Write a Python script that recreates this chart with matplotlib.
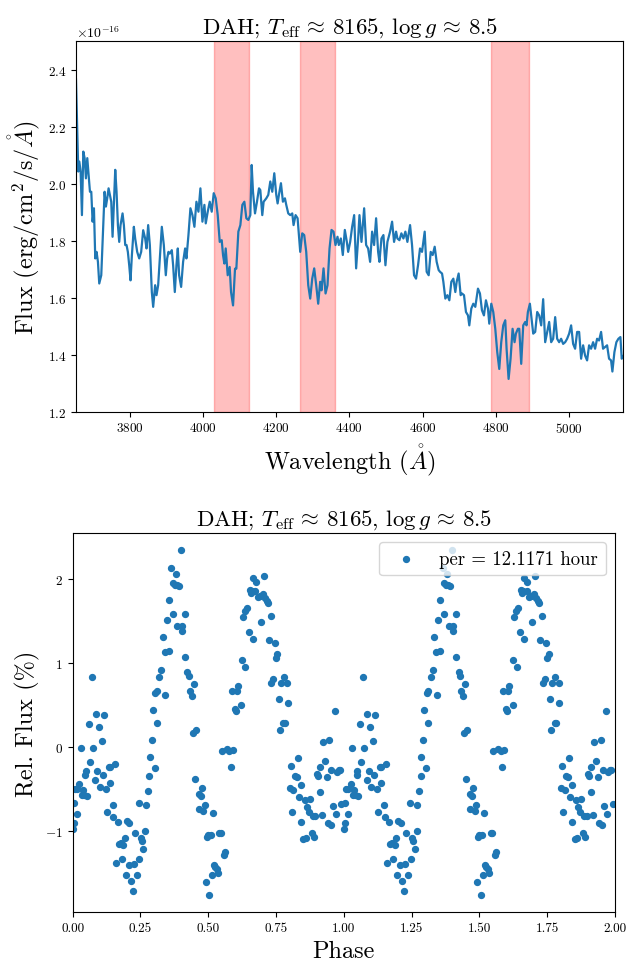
import matplotlib
matplotlib.use("Agg")
import matplotlib.pyplot as plt
import numpy as np

plt.rcParams['font.family'] = 'serif'
plt.rcParams['font.serif'] = ['cmr10']
plt.rcParams['mathtext.fontset'] = 'cm'
plt.rcParams['axes.formatter.use_mathtext'] = True
plt.rcParams['axes.unicode_minus'] = True

# spectrum, flux in units of 1e-16 erg/cm^2/s/A
wave_blue = [
    3652.7, 3659.0, 3661.8, 3665.4, 3669.0, 3672.7, 3676.3, 3679.9, 3683.6, 3687.2,
    3690.9, 3694.5, 3698.1, 3701.8, 3705.4, 3709.0, 3712.7, 3716.3, 3721.8, 3725.4,
    3730.9, 3734.5, 3738.1, 3741.8, 3745.4, 3749.1, 3752.7, 3756.3, 3760.0, 3763.6,
    3767.3, 3770.9, 3774.5, 3780.0, 3783.6, 3787.3, 3790.9, 3794.5, 3798.2, 3801.8,
    3805.5, 3810.9, 3814.5, 3820.0, 3825.5, 3830.9, 3836.4, 3841.8, 3845.5, 3850.0,
    3854.6, 3860.0, 3863.7, 3869.1, 3872.8, 3877.3, 3881.9, 3887.3, 3892.8, 3898.2,
    3901.9, 3905.5, 3909.1, 3914.6, 3918.2, 3922.8, 3927.3, 3931.0, 3934.6, 3940.1,
    3945.5, 3951.0, 3954.6, 3960.1, 3965.5, 3971.0, 3976.4, 3981.9, 3987.4, 3992.8,
    3998.3, 4003.7, 4007.4, 4012.8, 4018.3, 4023.7, 4029.2, 4034.6, 4040.1, 4045.6,
    4051.0, 4054.7, 4058.3, 4061.9, 4067.4, 4072.8, 4076.5, 4082.0, 4087.4, 4091.0,
    4096.5, 4102.0, 4107.4, 4112.9, 4118.3, 4123.8, 4129.2, 4132.9, 4136.5, 4142.0,
    4147.4, 4152.9]
flux_blue = [
    2.366, 2.043, 2.078, 2.043, 1.890, 2.113, 2.090, 2.019, 2.090, 2.031,
    1.972, 1.972, 1.867, 1.914, 1.738, 1.761, 1.726, 1.650, 1.679, 1.796,
    1.972, 1.920, 1.949, 1.984, 1.961, 1.937, 1.814, 1.926, 2.049, 1.972,
    1.855, 1.796, 1.855, 1.896, 1.855, 1.785, 1.785, 1.761, 1.714, 1.661,
    1.749, 1.849, 1.808, 1.761, 1.738, 1.761, 1.837, 1.808, 1.773, 1.855,
    1.785, 1.620, 1.568, 1.644, 1.609, 1.644, 1.738, 1.849, 1.785, 1.679,
    1.738, 1.761, 1.755, 1.767, 1.714, 1.620, 1.714, 1.773, 1.679, 1.638,
    1.726, 1.773, 1.738, 1.820, 1.914, 1.890, 1.849, 1.937, 1.902, 1.984,
    1.867, 1.926, 1.861, 1.902, 1.937, 1.902, 1.967, 1.949, 1.890, 1.796,
    1.802, 1.749, 1.720, 1.773, 1.679, 1.708, 1.620, 1.573, 1.702, 1.702,
    1.832, 1.855, 1.926, 1.937, 1.879, 1.873, 1.890, 2.066, 1.972, 1.896,
    1.937, 1.984]

wave_mid = [
    4156.5, 4161.9, 4165.6, 4172.9, 4178.3, 4183.8, 4189.2, 4194.7, 4200.1, 4203.8,
    4207.4, 4212.9, 4218.3, 4223.8, 4227.4, 4232.9, 4238.3, 4243.8, 4247.4, 4252.9,
    4258.4, 4262.0, 4265.6, 4271.1, 4276.5, 4282.0, 4287.5, 4292.9, 4298.4, 4303.8,
    4309.3, 4314.7, 4320.2, 4323.8, 4329.3, 4334.8, 4340.2, 4345.7, 4351.1, 4356.6,
    4362.0, 4367.5, 4371.1, 4376.6, 4382.0, 4387.5, 4393.0, 4396.6, 4402.1, 4407.5,
    4413.0, 4418.4, 4423.9, 4427.5, 4433.0, 4440.3, 4445.7, 4451.2, 4456.6, 4462.1,
    4467.5, 4473.0, 4478.5, 4482.1, 4487.6, 4493.0, 4498.5, 4503.9, 4511.2, 4516.7,
    4522.1, 4527.6, 4531.2, 4536.7, 4542.1, 4547.6, 4553.0, 4558.5, 4565.8, 4571.2,
    4576.7, 4582.1, 4587.6, 4593.0, 4598.5, 4605.8, 4611.2, 4616.7, 4622.2, 4627.6,
    4633.1, 4638.5, 4644.0]
flux_mid = [
    1.978, 1.890, 1.937, 1.949, 1.961, 2.008, 1.972, 2.037, 1.961, 1.931,
    1.961, 2.002, 1.937, 1.949, 1.926, 1.896, 1.890, 1.896, 1.855, 1.890,
    1.879, 1.820, 1.761, 1.826, 1.820, 1.761, 1.644, 1.597, 1.667, 1.703,
    1.644, 1.579, 1.656, 1.626, 1.703, 1.615, 1.644, 1.773, 1.838, 1.832,
    1.785, 1.814, 1.785, 1.808, 1.750, 1.838, 1.796, 1.761, 1.796, 1.849,
    1.890, 1.703, 1.808, 1.890, 1.796, 1.914, 1.785, 1.773, 1.726, 1.832,
    1.785, 1.879, 1.761, 1.726, 1.808, 1.820, 1.714, 1.796, 1.832, 1.867,
    1.796, 1.832, 1.808, 1.802, 1.826, 1.808, 1.832, 1.796, 1.855, 1.785,
    1.679, 1.667, 1.714, 1.773, 1.761, 1.832, 1.691, 1.679, 1.761, 1.750,
    1.779, 1.726, 1.697]

wave_red = [
    4647.7, 4653.2, 4656.8, 4662.2, 4667.7, 4673.2, 4678.6, 4684.1, 4689.5, 4693.2,
    4698.6, 4704.1, 4707.7, 4713.2, 4718.6, 4724.1, 4727.7, 4733.2, 4738.6, 4744.1,
    4751.4, 4756.8, 4762.3, 4767.7, 4773.2, 4778.7, 4782.3, 4787.8, 4793.2, 4798.7,
    4804.1, 4809.6, 4815.0, 4820.5, 4826.0, 4829.6, 4835.1, 4840.5, 4846.0, 4851.4,
    4855.1, 4860.5, 4864.2, 4869.6, 4875.1, 4880.5, 4884.2, 4887.8, 4893.3, 4896.9,
    4902.4, 4907.8, 4913.3, 4918.7, 4924.2, 4929.6, 4935.1, 4940.5, 4946.0, 4951.5,
    4956.9, 4962.4, 4967.8, 4973.3, 4978.7, 4984.2, 4989.7, 4995.1, 5000.6, 5006.0,
    5011.5, 5016.9, 5022.4, 5027.9, 5033.3, 5038.8, 5044.2, 5049.7, 5055.1, 5060.6,
    5066.1, 5071.5, 5077.0, 5082.4, 5087.9, 5093.3, 5098.8, 5104.3, 5109.7, 5115.2,
    5118.8, 5124.3, 5129.7, 5135.2, 5140.7, 5144.3, 5148.5]
flux_red = [
    1.691, 1.685, 1.656, 1.597, 1.609, 1.591, 1.656, 1.667, 1.620, 1.656,
    1.685, 1.609, 1.615, 1.609, 1.550, 1.538, 1.503, 1.562, 1.579, 1.568,
    1.632, 1.615, 1.556, 1.538, 1.591, 1.562, 1.509, 1.579, 1.550, 1.491,
    1.409, 1.350, 1.444, 1.503, 1.521, 1.421, 1.315, 1.386, 1.491, 1.444,
    1.474, 1.491, 1.491, 1.368, 1.503, 1.515, 1.503, 1.550, 1.579, 1.538,
    1.474, 1.480, 1.550, 1.538, 1.503, 1.595, 1.444, 1.480, 1.515, 1.444,
    1.456, 1.532, 1.456, 1.444, 1.456, 1.438, 1.444, 1.456, 1.474, 1.503,
    1.438, 1.421, 1.480, 1.480, 1.386, 1.433, 1.397, 1.380, 1.433, 1.421,
    1.444, 1.421, 1.456, 1.450, 1.480, 1.421, 1.427, 1.433, 1.386, 1.380,
    1.341, 1.409, 1.444, 1.456, 1.462, 1.386, 1.395]

# Balmer line windows (Angstrom)
line_windows = [(4030, 4125), (4266, 4362), (4788, 4891)]

# folded light curve, one cycle
phase = [
    0.001, 0.003, 0.005, 0.015, 0.007, 0.017, 0.025, 0.029, 0.034, 0.039,
    0.042, 0.054, 0.047, 0.049, 0.061, 0.064, 0.071, 0.076, 0.084, 0.086,
    0.091, 0.096, 0.101, 0.108, 0.111, 0.115, 0.123, 0.125, 0.133, 0.138,
    0.138, 0.147, 0.150, 0.157, 0.160, 0.167, 0.172, 0.177, 0.182, 0.187,
    0.192, 0.197, 0.199, 0.206, 0.209, 0.214, 0.221, 0.226, 0.231, 0.236,
    0.243, 0.246, 0.251, 0.256, 0.261, 0.268, 0.270, 0.278, 0.283, 0.285,
    0.293, 0.297, 0.302, 0.312, 0.305, 0.312, 0.320, 0.327, 0.332, 0.342,
    0.339, 0.347, 0.354, 0.356, 0.364, 0.369, 0.371, 0.376, 0.381, 0.383,
    0.391, 0.386, 0.398, 0.403, 0.403, 0.415, 0.413, 0.423, 0.428, 0.433,
    0.440, 0.447, 0.442, 0.455, 0.452, 0.465, 0.465, 0.472, 0.477, 0.482,
    0.487, 0.494, 0.499, 0.511, 0.516, 0.492, 0.504, 0.514, 0.521, 0.526,
    0.531, 0.536, 0.541, 0.548, 0.551, 0.558, 0.561, 0.568, 0.578, 0.585,
    0.592, 0.588, 0.597, 0.602, 0.607, 0.610, 0.622, 0.624, 0.637, 0.627,
    0.634, 0.644, 0.649, 0.664, 0.654, 0.656, 0.661, 0.666, 0.674, 0.676,
    0.683, 0.691, 0.701, 0.706, 0.710, 0.715, 0.720, 0.693, 0.730, 0.723,
    0.745, 0.755, 0.750, 0.740, 0.733, 0.769, 0.792, 0.779, 0.760, 0.794,
    0.777, 0.784, 0.765, 0.804, 0.821, 0.826, 0.801, 0.814, 0.841, 0.831,
    0.833, 0.856, 0.875, 0.865, 0.870, 0.809, 0.843, 0.885, 0.895, 0.919,
    0.912, 0.905, 0.929, 0.902, 0.912, 0.924, 0.947, 0.966, 0.954, 0.976,
    0.981, 0.986, 0.937, 0.961, 0.971, 0.991, 0.942, 0.951, 0.851, 0.860,
    0.883, 0.890]
rel_flux = [
    -0.981, -0.913, -0.673, -0.801, -0.505, -0.505, -0.441, -0.012, -0.573, -0.521,
    -0.573, -0.593, -0.333, -0.293, 0.268, -0.185, 0.837, -0.020, -0.401, 0.396,
    -0.289, 0.232, -0.485, 0.072, -0.341, 0.384, -0.501, -0.773, -0.241, -0.241,
    -0.433, -0.697, -0.841, -0.209, -1.386, -0.893, -1.162, -1.154, -1.338, -1.178,
    -1.090, -1.530, -0.881, -1.410, -0.913, -1.598, -1.722, -1.402, -1.030, -1.526,
    -0.673, -1.334, -1.094, -1.122, -1.218, -1.009, -0.697, -0.533, -0.345, -0.128,
    0.080, 0.440, -0.257, 0.288, 0.645, 0.661, 0.833, 0.913, 1.309, 0.617,
    1.129, 1.506, 1.145, 1.750, 2.134, 1.586, 1.950, 1.930, 2.062, 1.930,
    1.922, 1.438, 2.343, 1.381, 1.438, 1.586, 1.069, 0.889, 0.849, 0.665,
    0.605, 0.753, 0.160, 0.200, -0.381, -0.561, -0.737, -0.593, -0.493, -0.761,
    -0.697, -1.082, -1.058, -1.050, -0.785, -1.618, -1.766, -1.530, -1.410, -1.434,
    -1.458, -1.502, -1.026, -1.026, -0.052, -1.294, -1.254, -0.032, -0.056, -0.241,
    -0.044, 0.669, 0.448, 0.424, 0.661, 0.729, 0.500, 1.033, 0.953, 1.546,
    1.618, 1.658, 1.369, 1.289, 1.870, 1.838, 1.858, 2.010, 1.858, 1.970,
    1.782, 1.802, 1.818, 2.030, 1.770, 1.738, 1.710, 1.490, 1.562, 1.277,
    1.241, 1.109, 1.057, 0.809, 0.757, 0.761, 0.761, 0.837, 0.568, 0.524,
    0.280, 0.280, 0.196, -0.233, -0.345, -0.361, -0.493, -0.517, -0.453, -0.140,
    -0.601, -0.633, -0.625, -0.721, -0.773, -0.777, -0.893, -0.821, -0.821, -0.813,
    -0.541, -0.353, -0.172, -0.325, -0.241, 0.060, 0.080, 0.420, -0.281, -0.301,
    -0.273, -0.281, -0.361, -0.705, -0.801, -0.681, -0.913, -0.929, -1.102, -1.094,
    -1.034, -1.078]

period_hours = 12.1171
title = r'DAH; $T_{\rm eff} \,\approx\, 8165$, $\log g \,\approx\, 8.5$'

wave = np.array(wave_blue + wave_mid + wave_red)
flux = np.array(flux_blue + flux_mid + flux_red) * 1e-16
phase = np.array(phase)
rel_flux = np.array(rel_flux)

fig = plt.figure(figsize=(6.30, 9.62), dpi=100)

# spectrum
ax1 = fig.add_axes([0.1206, 0.571, 0.8687, 0.385])
ax1.plot(wave, flux, color='#1f77b4', lw=1.6)
for lo, hi in line_windows:
    ax1.axvspan(lo, hi, color='red', alpha=0.25)
ax1.set_xlim(wave.min(), wave.max())
ax1.set_ylim(1.2e-16, 2.5e-16)
ax1.set_xticks(np.arange(3800, 5001, 200))
ax1.tick_params(labelsize=9.5)
ax1.yaxis.get_offset_text().set_fontsize(10)
ax1.set_xlabel(r'Wavelength ($\mathring{A}$)', fontsize=17.5)
ax1.set_ylabel(r'Flux (erg/cm$^2$/s/$\mathring{A}$)', fontsize=17.5)
ax1.set_title(title, fontsize=16.5)

# folded light curve, shown over two cycles
ax2 = fig.add_axes([0.1154, 0.0509, 0.8608, 0.394])
ax2.scatter(np.concatenate([phase, phase + 1]),
            np.concatenate([rel_flux, rel_flux]),
            s=18, color='#1f77b4', label=f'per = {period_hours} hour')
ax2.set_xlim(0, 2)
ax2.set_xticks(np.arange(0, 2.01, 0.25))
ax2.xaxis.set_major_formatter(matplotlib.ticker.FormatStrFormatter('%.2f'))
ax2.tick_params(labelsize=9.5)
ax2.set_xlabel('Phase', fontsize=17.5)
ax2.set_ylabel('Rel. Flux (%)', fontsize=17.5)
ax2.set_title(title, fontsize=16.5)
ax2.legend(loc='upper right', fontsize=13.5, handletextpad=0.8)

fig.savefig('out.png', dpi=100)
